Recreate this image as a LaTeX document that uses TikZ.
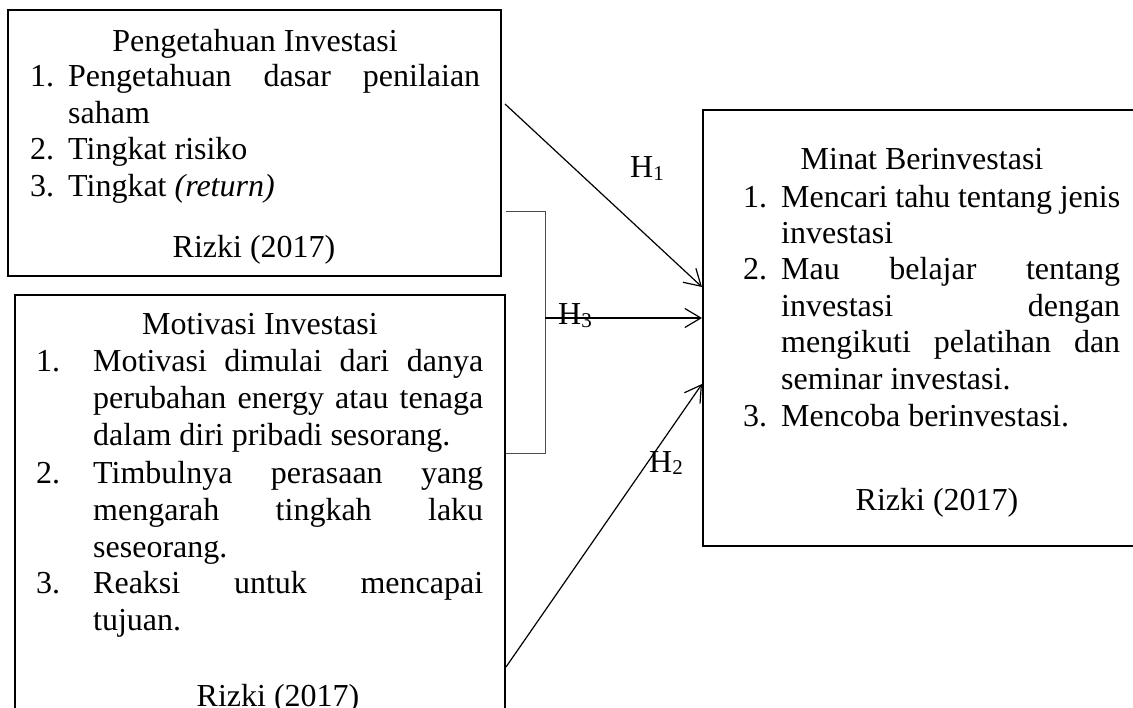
\documentclass[tikz,border=0pt]{standalone}
\usepackage{fontspec}
\setmainfont{Liberation Serif}
\usetikzlibrary{arrows.meta}
\newcommand\bigfs{\fontsize{32}{37}\selectfont}
\newcommand\hsub[1]{\raisebox{-2.5pt}{\fontsize{21}{21}\selectfont #1}}
\begin{document}
\begin{tikzpicture}[x=1pt,y=-1pt,
  box/.style={draw, line width=2.8pt, inner sep=0pt},
  txt/.style={anchor=base west, inner sep=0pt, font=\bigfs},
  ctr/.style={anchor=base, inner sep=0pt, font=\bigfs},
  conn/.style={line width=1.2pt, -{Straight Barb[length=16pt,width=19pt,line width=1.2pt]}},
  brk/.style={line width=1pt, draw=black!70},
  hlab/.style={anchor=base west, inner sep=0pt, font=\bigfs}]
\useasboundingbox (0,0) rectangle (1133,708);
% boxes
\node[box, minimum width=493pt, minimum height=266pt] (b1) at (254.5,143) {};
\node[box, minimum width=490pt, minimum height=425pt] (b2) at (260,507.5) {};
\node[box, minimum width=442pt, minimum height=436pt] (b3) at (924,328) {};
% box 1 text
\node[ctr] (t1h) at (255,52) {Pengetahuan Investasi};
\node[txt] (t1n1) at (30,87) {1.};
\node[txt] (t1a) at (68,87) {\makebox[412pt][s]{Pengetahuan dasar penilaian}};
\node[txt] (t1b) at (68,124) {saham};
\node[txt] (t1n2) at (30,160) {2.};
\node[txt] (t1c) at (68,160) {Tingkat risiko};
\node[txt] (t1n3) at (30,197) {3.};
\node[txt] (t1d) at (68,197) {Tingkat \textit{(return)}};
\node[ctr] (t1r) at (254,258) {Rizki (2017)};
% box 2 text
\node[ctr] (t2h) at (260,335) {Motivasi Investasi};
\node[txt] (t2n1) at (36,372) {1.};
\node[txt] (t2a) at (93,372) {\makebox[390pt][s]{Motivasi dimulai dari danya}};
\node[txt] (t2b) at (93,409) {\makebox[390pt][s]{perubahan energy atau tenaga}};
\node[txt] (t2c) at (93,446) {dalam diri pribadi sesorang.};
\node[txt] (t2n2) at (36,483) {2.};
\node[txt] (t2d) at (93,483) {\makebox[390pt][s]{Timbulnya perasaan yang}};
\node[txt] (t2e) at (93,520) {\makebox[390pt][s]{mengarah tingkah laku}};
\node[txt] (t2f) at (93,557) {seseorang.};
\node[txt] (t2n3) at (36,593) {3.};
\node[txt] (t2g) at (93,593) {\makebox[390pt][s]{Reaksi untuk mencapai}};
\node[txt] (t2h2) at (93,630) {tujuan.};
\node[ctr] (t2r) at (278,706) {Rizki (2017)};
% box 3 text
\node[ctr] (t3h) at (922,170) {Minat Berinvestasi};
\node[txt] (t3n1) at (743,208) {1.};
\node[txt] (t3a) at (781,208) {\makebox[339pt][s]{Mencari tahu tentang jenis}};
\node[txt] (t3b) at (781,244) {investasi};
\node[txt] (t3n2) at (743,280) {2.};
\node[txt] (t3c) at (781,280) {\makebox[339pt][s]{Mau belajar tentang}};
\node[txt] (t3d) at (781,317) {\makebox[339pt][s]{investasi dengan}};
\node[txt] (t3e) at (781,353) {\makebox[339pt][s]{mengikuti pelatihan dan}};
\node[txt] (t3f) at (781,390) {seminar investasi.};
\node[txt] (t3n3) at (743,427) {3.};
\node[txt] (t3g) at (781,427) {Mencoba berinvestasi.};
\node[ctr] (t3r) at (937,510) {Rizki (2017)};
% bracket
\coordinate (k1) at (506,212);
\coordinate (k2) at (545,212);
\coordinate (k3) at (545,454);
\coordinate (k4) at (506,454);
\coordinate (km) at (545,318);
\draw[brk] (k1) -- (k2) -- (k3) -- (k4);
% connectors
\coordinate (a1s) at (505,104);
\coordinate (a1e) at (702,287);
\coordinate (a3e) at (702,318);
\coordinate (a2s) at (506,667);
\coordinate (a2e) at (702,384);
\draw[conn] (a1s) -- (a1e);
\draw[conn] (km) -- (a3e);
\draw[conn] (a2s) -- (a2e);
% labels
\node[hlab] (h1) at (630,178) {H\hsub{1}};
\node[hlab] (h3) at (558,325) {H\hsub{3}};
\node[hlab] (h2) at (649,472) {H\hsub{2}};
\end{tikzpicture}
\end{document}
